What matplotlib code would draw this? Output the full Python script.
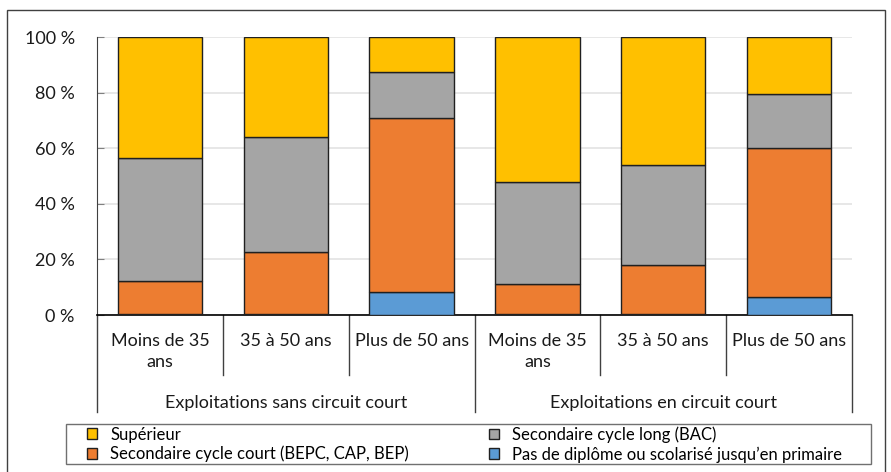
import matplotlib
matplotlib.use("Agg")
import matplotlib.pyplot as plt
from matplotlib.patches import Rectangle, Patch
from matplotlib.lines import Line2D
import numpy as np

plt.rcParams['font.family'] = ['Lato', 'DejaVu Sans']

groups = ["Exploitations sans circuit court", "Exploitations en circuit court"]
ages = ["Moins de 35\nans", "35 à 50 ans", "Plus de 50 ans"]
series_names = ["Pas de diplôme ou scolarisé jusqu’en primaire",
                "Secondaire cycle court (BEPC, CAP, BEP)",
                "Secondaire cycle long (BAC)",
                "Supérieur"]
pas_diplome = [0.3, 0.5, 8.3, 0.3, 0.3, 6.3]
sec_court = [11.9, 22.2, 62.6, 10.9, 17.7, 53.7]
sec_long = [44.3, 41.3, 16.5, 36.5, 36.0, 19.4]
superieur = [43.5, 36.0, 12.6, 52.3, 46.0, 20.6]
colors = ["#5B9BD5", "#ED7D31", "#A5A5A5", "#FFC000"]
yticks = [0, 20, 40, 60, 80, 100]

W, H = 891, 472
fig = plt.figure(figsize=(W/100, H/100), dpi=100)
fig.patches.append(Rectangle((7/W, -0.05), 878/W, 1.05 - 10/H, transform=fig.transFigure,
                             fill=False, edgecolor="#404040", linewidth=1.0))
ax = fig.add_axes([97/W, 1-315/H, (852-97)/W, (315-37)/H])

x = np.arange(len(pas_diplome))
bottom = np.zeros(len(x))
data = [pas_diplome, sec_court, sec_long, superieur]
for vals, col, name in zip(data, colors, series_names):
    ax.bar(x, vals, bottom=bottom, width=0.67, color=col, edgecolor="#202020",
           linewidth=1.0, zorder=3, label=name)
    bottom += np.array(vals)

ax.set_xlim(-0.5, len(x) - 0.5)
ax.set_ylim(0, 100)
ax.set_yticks(yticks)
ax.set_yticklabels([f"{t} %" for t in yticks], fontsize=13, color="#1a1a1a")
ax.tick_params(axis='y', direction='in', length=5, color="#808080", pad=16)
ax.set_xticks([])
ax.grid(axis='y', color="#E3E3E3", linewidth=1.2, zorder=0)
for s in ["top", "right"]:
    ax.spines[s].set_visible(False)
ax.spines["bottom"].set_color("black")
ax.spines["left"].set_color("#404040")
ax.spines["bottom"].set_linewidth(1.2)

# multi-level category axis
trans = ax.get_xaxis_transform()
h = (315 - 37)
def yax(py):
    return -(py - 315) / h

for i in range(len(x) + 1):
    xp = i - 0.5
    y2 = yax(412) if i % 3 == 0 else yax(375)
    ax.add_line(Line2D([xp, xp], [0, y2], transform=trans, color="#404040",
                       linewidth=1.0, clip_on=False))
for i, xi in enumerate(x):
    ax.text(xi, yax(333), ages[i % 3], transform=trans, ha='center', va='top',
            fontsize=13, color="#1a1a1a", linespacing=1.35)
for g, name in enumerate(groups):
    ax.text(g * 3 + 1, yax(403), name, transform=trans, ha='center', va='center',
            fontsize=13, color="#1a1a1a")

# legend frame
fig.patches.append(Rectangle((66/W, 1 - 464/H), (871-66)/W, 40/H, transform=fig.transFigure,
                             fill=False, edgecolor="#707070", linewidth=1.0))
cols = [[series_names[3], series_names[1]], [series_names[2], series_names[0]]]
anchors = [87, 489]
for names, xa in zip(cols, anchors):
    hs = [Patch(facecolor=colors[series_names.index(n)], edgecolor="#202020", linewidth=1.0)
          for n in names]
    fig.legend(hs, names, loc='center left', bbox_to_anchor=(xa/W, 1 - 444.5/H),
               fontsize=12, frameon=False, borderpad=0, borderaxespad=0,
               labelspacing=0.2, handlelength=0.6, handleheight=0.6, handletextpad=0.8)

fig.savefig("out.png", dpi=100)
